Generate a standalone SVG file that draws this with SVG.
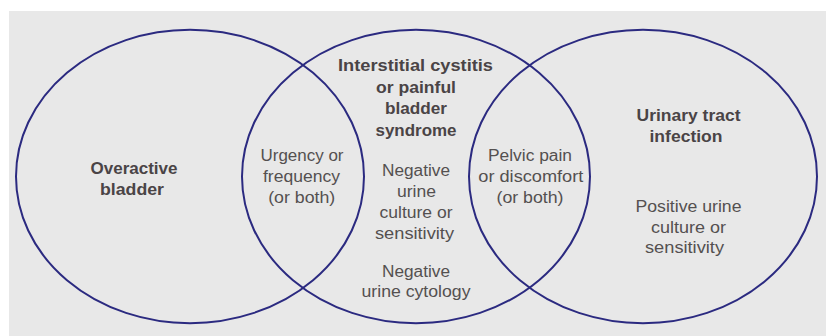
<svg xmlns="http://www.w3.org/2000/svg" width="826" height="336" viewBox="0 0 826 336">
<style>
.ring{fill:none;stroke:#2b2a80;stroke-width:2}
.h{font-family:"Liberation Sans Narrow","Liberation Sans",Arial,sans-serif;font-weight:bold;font-size:17px;fill:#4a4446;text-anchor:middle}
.t{font-family:"Liberation Sans Narrow","Liberation Sans",Arial,sans-serif;font-size:16px;fill:#545050;text-anchor:middle}
</style>
<rect x="0" y="0" width="826" height="336" fill="#ffffff"/>
<rect x="9" y="11" width="817" height="325" fill="#e8e8e8"/>
<g id="connectors"></g>
<g id="overactive-bladder">
<ellipse class="ring" cx="190" cy="176.5" rx="174" ry="146.7"/>
<text class="h" x="134" y="174" textLength="87" lengthAdjust="spacingAndGlyphs">Overactive</text>
<text class="h" x="132" y="194.5" textLength="64" lengthAdjust="spacingAndGlyphs">bladder</text>
</g>
<g id="interstitial-cystitis">
<ellipse class="ring" cx="416" cy="176.5" rx="174" ry="146.7"/>
<text class="h" x="415.5" y="71" textLength="155" lengthAdjust="spacingAndGlyphs">Interstitial cystitis</text>
<text class="h" x="416" y="92.5" textLength="80" lengthAdjust="spacingAndGlyphs">or painful</text>
<text class="h" x="416" y="114" textLength="62" lengthAdjust="spacingAndGlyphs">bladder</text>
<text class="h" x="416" y="135.5" textLength="81" lengthAdjust="spacingAndGlyphs">syndrome</text>
<text class="t" x="416" y="176" textLength="68" lengthAdjust="spacingAndGlyphs">Negative</text>
<text class="t" x="416.5" y="197" textLength="39" lengthAdjust="spacingAndGlyphs">urine</text>
<text class="t" x="416" y="218" textLength="73" lengthAdjust="spacingAndGlyphs">culture or</text>
<text class="t" x="414.5" y="239" textLength="79" lengthAdjust="spacingAndGlyphs">sensitivity</text>
<text class="t" x="416" y="276.5" textLength="68" lengthAdjust="spacingAndGlyphs">Negative</text>
<text class="t" x="416" y="297" textLength="109" lengthAdjust="spacingAndGlyphs">urine cytology</text>
</g>
<g id="urinary-tract-infection">
<ellipse class="ring" cx="643" cy="176.5" rx="174" ry="146.7"/>
<text class="h" x="688.5" y="121" textLength="104" lengthAdjust="spacingAndGlyphs">Urinary tract</text>
<text class="h" x="686" y="142" textLength="73" lengthAdjust="spacingAndGlyphs">infection</text>
<text class="t" x="688.5" y="212" textLength="106" lengthAdjust="spacingAndGlyphs">Positive urine</text>
<text class="t" x="688.5" y="232.5" textLength="75" lengthAdjust="spacingAndGlyphs">culture or</text>
<text class="t" x="684.5" y="253" textLength="79" lengthAdjust="spacingAndGlyphs">sensitivity</text>
</g>
<g id="urgency-frequency">
<text class="t" x="302" y="161" textLength="83" lengthAdjust="spacingAndGlyphs">Urgency or</text>
<text class="t" x="301.5" y="182" textLength="77" lengthAdjust="spacingAndGlyphs">frequency</text>
<text class="t" x="301.7" y="203" textLength="67" lengthAdjust="spacingAndGlyphs">(or both)</text>
</g>
<g id="pelvic-pain">
<text class="t" x="530" y="161" textLength="84" lengthAdjust="spacingAndGlyphs">Pelvic pain</text>
<text class="t" x="530.8" y="182" textLength="105" lengthAdjust="spacingAndGlyphs">or discomfort</text>
<text class="t" x="530" y="203" textLength="67" lengthAdjust="spacingAndGlyphs">(or both)</text>
</g>
</svg>
